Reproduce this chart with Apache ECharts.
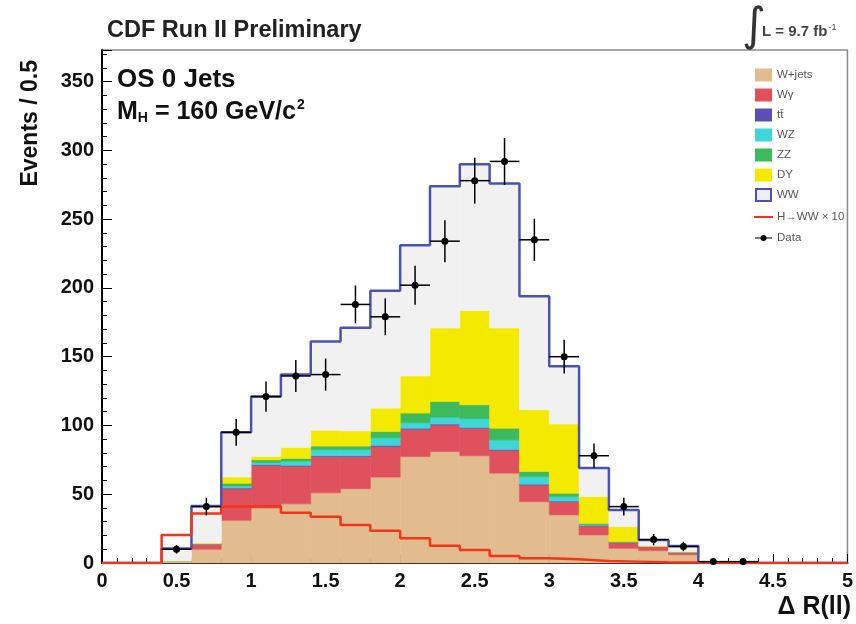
<!DOCTYPE html>
<html>
<head>
<meta charset="utf-8">
<script src="https://cdn.jsdelivr.net/npm/echarts@6/dist/echarts.min.js"></script>
<style>
html, body { margin: 0; padding: 0; background: #fff; }
#chart { width: 856px; height: 624px; }
</style>
</head>
<body>
<div id="chart"></div>
<script>
// Delta R(ll) distribution, OS 0 jets, M_H = 160 GeV/c^2
// Bin lower edges (bin width 0.2)
const binLow = [0.4, 0.6, 0.8, 1.0, 1.2, 1.4, 1.6, 1.8, 2.0, 2.2, 2.4, 2.6, 2.8, 3.0, 3.2, 3.4, 3.6, 3.8];
const binWidth = 0.2;

// Background expectations, stacked bottom to top
const wjets  = [1, 10, 31, 40, 43, 51, 54, 62.5, 77.4, 81, 78, 65.3, 44.6, 35, 20.4, 10.7, 9, 6];
const wgamma = [0.5, 4, 23, 31, 27.5, 26.5, 23.5, 22.2, 19.9, 19.4, 20, 16.7, 12.2, 9.6, 6.6, 4.1, 3, 2];
const ttbar  = [0, 0, 0.5, 0.5, 0.5, 0.5, 0.5, 0.8, 0.7, 0.6, 0.5, 0.5, 0.5, 0.4, 0.3, 0.2, 0, 0];
const wz     = [0, 0, 1.5, 1.5, 3, 4.5, 4.5, 5.5, 4, 5, 6.5, 7, 5.5, 3.3, 0.7, 0.3, 0, 0];
const zz     = [0, 0, 2, 2, 2, 2.5, 2.5, 4.6, 7, 11.4, 10, 8.5, 3.7, 2.4, 0.8, 0.3, 0.2, 0.1];
const dy     = [0, 0.5, 4.5, 2.5, 8, 11.5, 11, 17, 27, 53.4, 68.5, 72.8, 44.9, 50.3, 19.5, 10.8, 0.3, 0.1];
const ww     = [9, 27, 32.5, 43.5, 53, 64.5, 75, 85.4, 95, 103.2, 106.5, 105.2, 82.6, 42, 20.7, 12.2, 4.2, 4.2];

// Signal H->WW scaled by 10 (not stacked)
const hww10  = [20.4, 36, 41, 41.5, 36.6, 33.7, 27.7, 23.5, 18, 12.6, 9.5, 5, 3.4, 2.7, 1.5, 1, 0.5, 0.3];

// Observed data (bin centres and counts)
const dataX = [0.5, 0.7, 0.9, 1.1, 1.3, 1.5, 1.7, 1.9, 2.1, 2.3, 2.5, 2.7, 2.9, 3.1, 3.3, 3.5, 3.7, 3.9, 4.1, 4.3];
const dataY = [10, 41, 95, 121, 136, 137, 188, 179, 202, 234, 278, 292, 235, 150, 78, 41, 17, 12, 1, 1];

// Axis ticks
const xTicks = { min: 0, max: 5, interval: 0.5 };
const yTicks = { min: 0, max: 373, interval: 50 };

const layers = [
  { name: 'W+jets', values: wjets,  color: '#e2bb8f' },
  { name: 'Wγ',     values: wgamma, color: '#e0515e' },
  { name: 'tt̄',     values: ttbar,  color: '#5a4fb5' },
  { name: 'WZ',     values: wz,     color: '#3fd6d8' },
  { name: 'ZZ',     values: zz,     color: '#3dba5c' },
  { name: 'DY',     values: dy,     color: '#f3ea00' },
  { name: 'WW',     values: ww,     color: '#f1f1f2' }
];

const FONT = '"Liberation Sans", Arial, Helvetica, sans-serif';

// cumulative stack
const base = binLow.map(() => 0);
const stackSeries = layers.map((layer, li) => {
  const items = binLow.map((lo, i) => {
    const b = base[i];
    const t = b + layer.values[i];
    base[i] = t;
    return [lo, +(lo + binWidth).toFixed(2), b, t];
  });
  return {
    type: 'custom',
    name: layer.name,
    z: 2 + li,
    encode: { x: [0, 1], y: [2, 3] },
    data: items,
    renderItem: function (params, api) {
      const p0 = api.coord([api.value(0), api.value(3)]);
      const p1 = api.coord([api.value(1), api.value(2)]);
      return {
        type: 'rect',
        shape: { x: p0[0], y: p0[1], width: p1[0] - p0[0], height: p1[1] - p0[1] },
        style: { fill: layer.color, stroke: layer.color, lineWidth: 0.6 }
      };
    }
  };
});
const stackTop = base.slice();

// step outline over the full axis range (empty bins at zero)
function outline(values) {
  const pts = [];
  const nEdges = Math.round((xTicks.max - xTicks.min) / binWidth);
  for (let k = 0; k < nEdges; k++) {
    const x = Math.round(k * binWidth * 10) / 10;
    const idx = Math.round((x - binLow[0]) / binWidth);
    const v = (idx >= 0 && idx < values.length) ? values[idx] : 0;
    pts.push([x, v]);
  }
  pts.push([xTicks.max, 0]);
  return pts;
}

const chart = echarts.init(document.getElementById('chart'), null, { renderer: 'canvas' });

const legendRows = [
  { label: 'W+jets', kind: 'box', fill: '#e2bb8f', y: 75 },
  { label: 'Wγ', kind: 'box', fill: '#e0515e', y: 95 },
  { label: 'tt̄', kind: 'box', fill: '#5a4fb5', y: 115 },
  { label: 'WZ', kind: 'box', fill: '#3fd6d8', y: 135 },
  { label: 'ZZ', kind: 'box', fill: '#3dba5c', y: 155 },
  { label: 'DY', kind: 'box', fill: '#f3ea00', y: 175 },
  { label: 'WW', kind: 'ww', fill: '#eceef8', y: 195 },
  { label: 'H→WW × 10', kind: 'line', fill: '#f2361c', y: 217 },
  { label: 'Data', kind: 'data', fill: '#000', y: 238 }
];
const legendGraphics = [];
legendRows.forEach(r => {
  if (r.kind === 'box') {
    legendGraphics.push({ type: 'rect', shape: { x: 755, y: r.y - 6.5, width: 17, height: 13 }, style: { fill: r.fill } });
  } else if (r.kind === 'ww') {
    legendGraphics.push({ type: 'rect', shape: { x: 756, y: r.y - 6, width: 15, height: 12 }, style: { fill: r.fill, stroke: '#4b52b3', lineWidth: 2 } });
  } else if (r.kind === 'line') {
    legendGraphics.push({ type: 'line', shape: { x1: 754, y1: r.y, x2: 773, y2: r.y }, style: { stroke: r.fill, lineWidth: 2 } });
  } else {
    legendGraphics.push({ type: 'line', shape: { x1: 755, y1: r.y, x2: 772, y2: r.y }, style: { stroke: '#000', lineWidth: 1 } });
    legendGraphics.push({ type: 'circle', shape: { cx: 763.5, cy: r.y, r: 3 }, style: { fill: '#000' } });
  }
  legendGraphics.push({
    type: 'text', x: 777, y: r.y,
    style: { text: r.label, fontFamily: FONT, fontSize: 11.5, fill: '#555', textVerticalAlign: 'middle' }
  });
});

const option = {
  animation: false,
  backgroundColor: '#fff',
  grid: {
    left: 102, right: 2, top: 50, bottom: 61,
    show: true, borderColor: '#8a8a8a', borderWidth: 1.5, backgroundColor: 'transparent'
  },
  xAxis: {
    type: 'value',
    min: xTicks.min, max: xTicks.max, interval: xTicks.interval,
    axisLine: { show: true, onZero: false, lineStyle: { color: '#000', width: 2 } },
    axisTick: { show: true, inside: true, length: 9, lineStyle: { color: '#000', width: 1 } },
    minorTick: { show: true, splitNumber: 5, length: 5, lineStyle: { color: '#000', width: 1 } },
    splitLine: { show: false },
    axisLabel: {
      margin: 8, fontFamily: FONT, fontWeight: 'bold', fontSize: 20, color: '#111',
      formatter: v => String(v)
    }
  },
  yAxis: {
    type: 'value',
    min: yTicks.min, max: yTicks.max, interval: yTicks.interval,
    axisLine: { show: true, onZero: false, lineStyle: { color: '#000', width: 2 } },
    axisTick: { show: true, inside: true, length: 10, lineStyle: { color: '#000', width: 1 } },
    minorTick: { show: true, splitNumber: 5, length: 5, lineStyle: { color: '#000', width: 1 } },
    splitLine: { show: false },
    axisLabel: {
      margin: 8, fontFamily: FONT, fontWeight: 'bold', fontSize: 20, color: '#111',
      showMaxLabel: false
    }
  },
  graphic: [
    { type: 'text', x: 107, y: 31, style: { text: 'CDF Run II Preliminary', fontFamily: FONT, fontWeight: 'bold', fontSize: 23.5, fill: '#222', textVerticalAlign: 'middle' } },
    { type: 'text', x: 742, y: 5, style: { text: '∫', fontFamily: '"DejaVu Sans"', fontSize: 46, fill: '#333' } },
    { type: 'text', x: 762, y: 32, style: {
        text: '{a|L = 9.7 fb}{s|-1}', fontFamily: FONT, fill: '#444', textVerticalAlign: 'middle',
        rich: { a: { fontFamily: FONT, fontSize: 15, fontWeight: 'bold', fill: '#444' }, s: { fontFamily: FONT, fontSize: 9, fill: '#444', verticalAlign: 'top', padding: [0, 0, 9, 1] } }
    } },
    { type: 'text', x: 117, y: 80, style: { text: 'OS 0 Jets', fontFamily: FONT, fontWeight: 'bold', fontSize: 26, fill: '#111', textVerticalAlign: 'middle' } },
    { type: 'text', x: 117, y: 112, style: {
        text: '{m|M}{sub|H}{m| = 160 GeV/c}{sup|2}', textVerticalAlign: 'middle',
        rich: {
          m: { fontFamily: FONT, fontWeight: 'bold', fontSize: 25, fill: '#111' },
          sub: { fontFamily: FONT, fontWeight: 'bold', fontSize: 14, fill: '#111', padding: [13, 0, 0, 0] },
          sup: { fontFamily: FONT, fontWeight: 'bold', fontSize: 14, fill: '#111', padding: [0, 0, 13, 1] }
        }
    } },
    { type: 'text', x: 31, y: 60, rotation: Math.PI / 2, style: { text: 'Events / 0.5', fontFamily: FONT, fontWeight: 'bold', fontSize: 23, fill: '#111', textAlign: 'right', textVerticalAlign: 'middle' } },
    { type: 'text', x: 851, y: 607, style: { text: 'Δ R(ll)', fontFamily: FONT, fontWeight: 'bold', fontSize: 25, fill: '#111', textAlign: 'right', textVerticalAlign: 'middle' } }
  ].concat(legendGraphics),
  series: stackSeries.concat([
    {
      type: 'line', name: 'WW outline', z: 20, step: 'end',
      data: outline(stackTop), symbol: 'none',
      lineStyle: { color: '#4b52b3', width: 2.5 }
    },
    {
      type: 'line', name: 'H→WW × 10', z: 21, step: 'end',
      data: outline(hww10), symbol: 'none',
      lineStyle: { color: '#f2361c', width: 2.5 }
    },
    {
      type: 'custom', name: 'Data', z: 30,
      encode: { x: 0, y: 1 },
      data: dataX.map((x, i) => [x, dataY[i], Math.sqrt(dataY[i])]),
      renderItem: function (params, api) {
        const x = api.value(0), y = api.value(1), e = api.value(2);
        const c = api.coord([x, y]);
        const l = api.coord([x - binWidth / 2, y]);
        const r = api.coord([x + binWidth / 2, y]);
        const t = api.coord([x, y + e]);
        const b = api.coord([x, Math.max(0, y - e)]);
        return {
          type: 'group',
          children: [
            { type: 'line', shape: { x1: l[0], y1: c[1], x2: r[0], y2: c[1] }, style: { stroke: '#000', lineWidth: 1.5 } },
            { type: 'line', shape: { x1: c[0], y1: t[1], x2: c[0], y2: b[1] }, style: { stroke: '#000', lineWidth: 1.5 } },
            { type: 'circle', shape: { cx: c[0], cy: c[1], r: 3.5 }, style: { fill: '#000' } }
          ]
        };
      }
    }
  ])
};

chart.setOption(option);
</script>
</body>
</html>
